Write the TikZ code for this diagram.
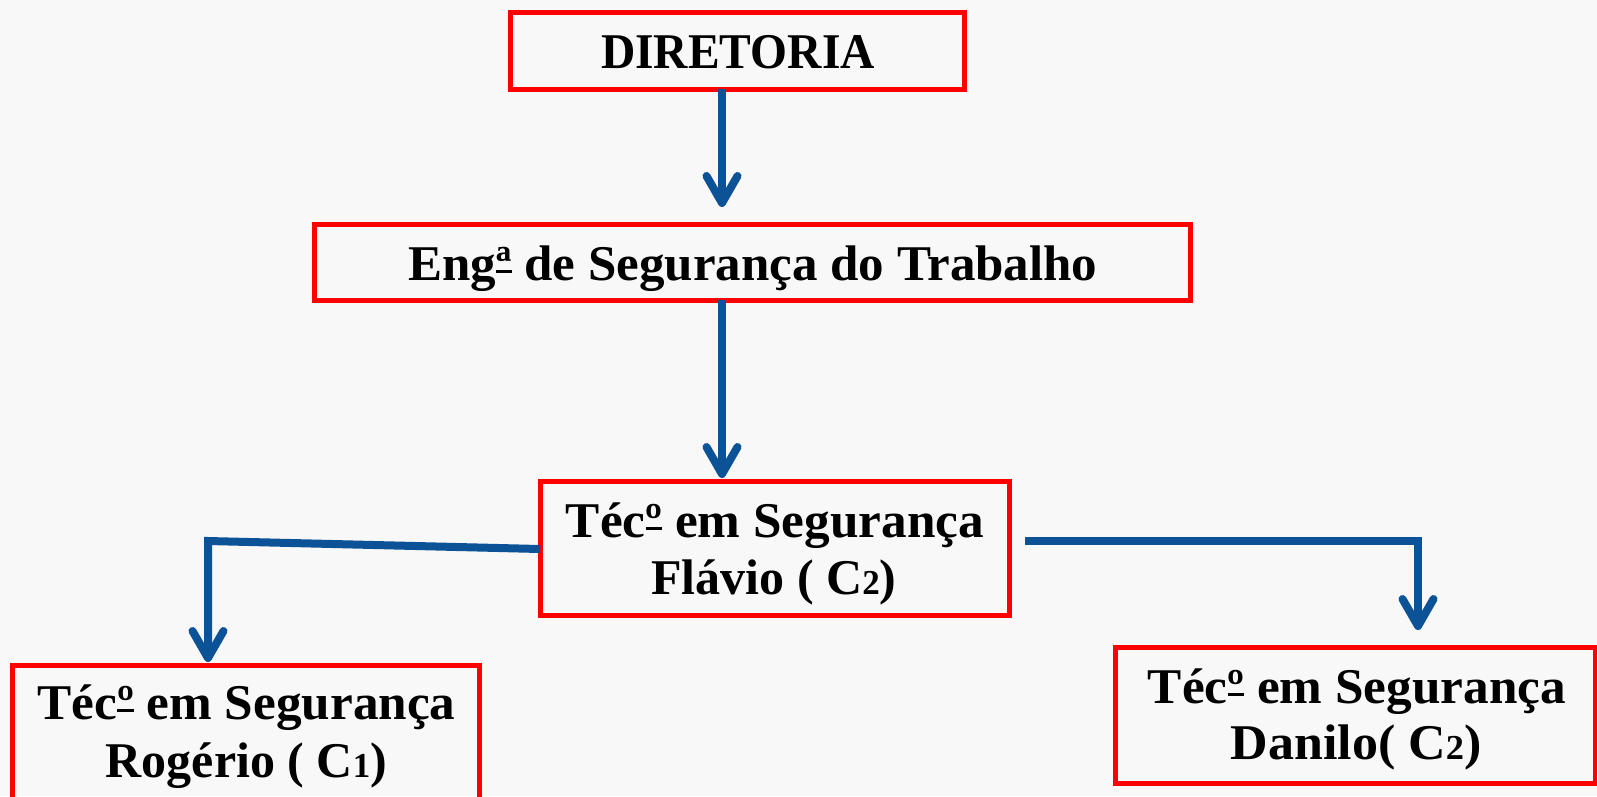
\documentclass[tikz,border=0pt]{standalone}
\usepackage{fontspec}
\setmainfont{Liberation Serif}
\usetikzlibrary{arrows.meta}
\definecolor{bgc}{RGB}{248,248,248}
\definecolor{boxred}{RGB}{255,0,0}
\definecolor{connblue}{RGB}{12,82,150}
\newcommand{\osn}[1]{{\fontsize{35pt}{35pt}\selectfont #1}}
\newcommand{\ordu}[1]{\leavevmode\setbox0\hbox{#1}\rlap{\rule[0.15em]{\wd0}{0.05em}}\box0\relax}
\begin{document}
\begin{tikzpicture}[x=1pt,y=-1pt,
  box/.style={draw=boxred, line width=5pt, rectangle, inner sep=0pt, outer sep=0pt},
  txt/.style={font=\fontsize{50pt}{57pt}\selectfont\bfseries, inner sep=0pt, anchor=base, text=black},
  conn/.style={draw=connblue, line width=8pt},
  arr/.style={conn, -{Straight Barb[length=27pt, width=31pt, round]}}
]
\useasboundingbox (0,0) rectangle (1597,796);
\fill[bgc] (0,0) rectangle (1597,796);

% boxes
\node[box, minimum width=454pt, minimum height=77pt] (b1) at (737,50.5) {};
\node[box, minimum width=876pt, minimum height=76pt] (b2) at (752,262) {};
\node[box, minimum width=469pt, minimum height=134pt] (b3) at (774.5,548.5) {};
\node[box, minimum width=467pt, minimum height=134pt] (b4) at (245.5,732) {};
\node[box, minimum width=480pt, minimum height=136pt] (b5) at (1355,715) {};

% texts
\node[txt] (t1) at (738,68) {\scalebox{0.95}[1]{DIRETORIA}};
\node[txt] (t2) at (753,280) {\scalebox{1.02}[1]{Eng\ordu{ª} de Segurança do Trabalho}};
\node[txt] (t3a) at (775,537) {\scalebox{1.025}[1]{Téc\ordu{º} em Segurança}};
\node[txt] (t3b) at (774,594) {Flávio ( C\osn{2})};
\node[txt] (t4a) at (246.5,719) {\scalebox{1.025}[1]{Téc\ordu{º} em Segurança}};
\node[txt] (t4b) at (246.5,777) {Rogério ( C\osn{1})};
\node[txt] (t5a) at (1357,703) {\scalebox{1.025}[1]{Téc\ordu{º} em Segurança}};
\node[txt] (t5b) at (1356,759) {\scalebox{1.04}[1]{Danilo( C\osn{2})}};

% connectors
\coordinate (e1) at (722,207);
\coordinate (e2) at (722,478);
\coordinate (lk) at (208,541);
\coordinate (e3) at (208,662);
\coordinate (rs) at (1025,541);
\coordinate (rk) at (1418,541);
\coordinate (e4) at (1418,630);

\draw[arr] (b1.south -| e1) -- (e1);
\draw[arr] (b2.south -| e2) -- (e2);
\draw[arr] ([yshift=-0.5pt]b3.west) -- (lk) -- (e3);
\draw[arr] (rs) -- (rk) -- (e4);
\end{tikzpicture}
\end{document}
